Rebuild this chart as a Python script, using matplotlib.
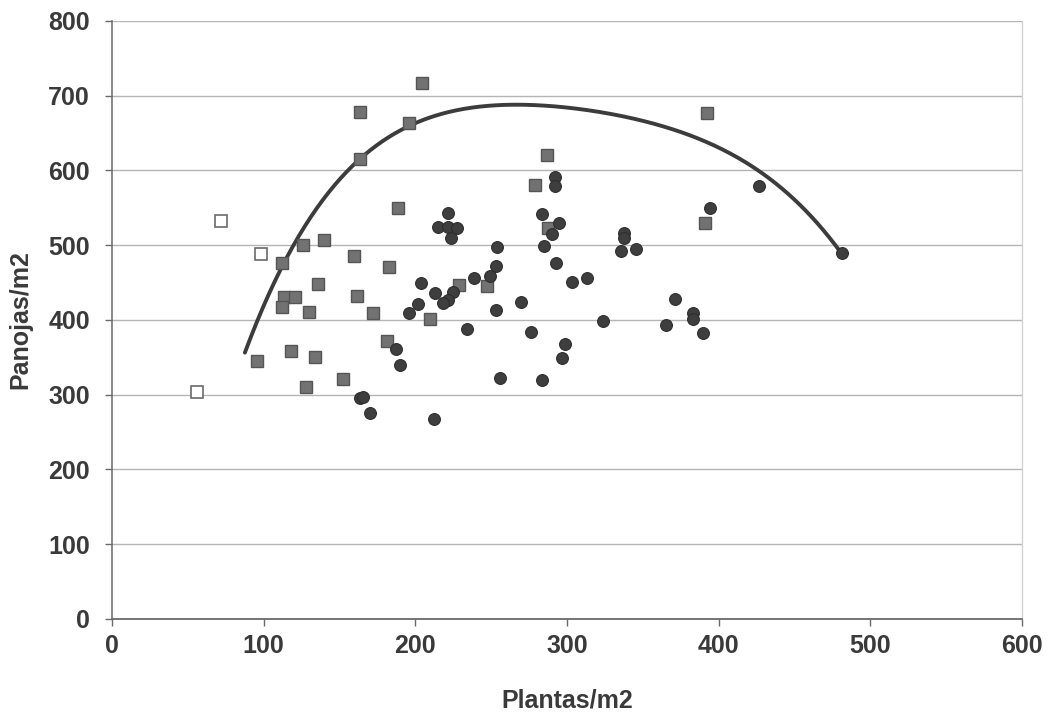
import matplotlib
matplotlib.use("Agg")
import matplotlib.pyplot as plt
import numpy as np

# Open (white) squares
open_x = [71.8, 98.2, 56.0]
open_y = [532, 488, 303]

# Gray squares
sq_x = [204.2, 163.4, 195.7, 163.4, 392.0, 286.6, 278.7, 188.4, 287.2, 391.3,
        139.7, 125.8, 159.4, 112.0, 182.5, 135.7, 161.4, 113.3, 120.6, 112.0,
        129.8, 171.9, 209.5, 228.6, 247.0, 181.2, 95.5, 117.9, 133.7, 152.2,
        127.8]
sq_y = [717, 678, 663, 615, 676, 620, 580, 549, 523, 529,
        507, 500, 485, 476, 471, 448, 432, 430, 430, 417,
        410, 409, 401, 446, 445, 372, 345, 358, 350, 321,
        310]

# Dark circles
ci_x = [221.3, 214.8, 221.3, 227.3, 223.3, 253.6, 253.0, 249.0, 239.0, 203.6,
        212.8, 224.6, 221.3, 218.0, 201.6, 195.7, 253.0, 269.4, 233.9, 276.0,
        187.0, 189.7, 255.6, 283.3, 299.0, 296.4, 323.5, 291.8, 291.8, 283.3,
        295.0, 289.9, 284.6, 292.5, 303.0, 312.9, 337.3, 337.3, 335.3, 345.8,
        371.5, 365.6, 383.4, 383.4, 390.0, 394.6, 426.9, 481.6, 163.4, 165.3,
        170.0, 212.1]
ci_y = [543, 524, 524, 523, 509, 497, 472, 459, 456, 449,
        436, 437, 427, 423, 421, 409, 413, 424, 388, 384,
        361, 340, 322, 320, 368, 349, 398, 591, 579, 541,
        529, 515, 499, 476, 451, 456, 516, 509, 492, 495,
        428, 393, 409, 401, 382, 550, 579, 489, 296, 297,
        275, 267]

# Traced boundary curve
curve_x = [87.6, 99.5, 110.7, 121.9, 132.4, 143.6, 163.4, 176.5, 196.3, 220.7,
           242.4, 264.2, 286.6, 312.9, 334.7, 356.4, 378.8, 400.5, 422.3, 433.5,
           444.7, 455.2, 466.4, 480.9]
curve_y = [353, 417, 473, 507, 540, 571, 611, 636, 663, 678,
           684.5, 687, 686, 682, 674, 663, 647, 627, 604, 591,
           573.5, 551, 524, 489]

x_ticks = [0, 100, 200, 300, 400, 500, 600]
y_ticks = [0, 100, 200, 300, 400, 500, 600, 700, 800]

plt.rcParams['font.family'] = ['Liberation Sans', 'DejaVu Sans']
txt = '#3a3a3a'

fig = plt.figure(figsize=(10.5, 7.17), dpi=100)
ax = fig.add_axes([0.1067, 0.1367, 0.8666, 0.8344])

ax.set_xlim(0, 600)
ax.set_ylim(0, 800)
ax.set_xticks(x_ticks)
ax.set_yticks(y_ticks)
ax.yaxis.grid(True, color='#b5b5b5', lw=1.0)
ax.set_axisbelow(True)

ax.spines['top'].set_visible(False)
ax.spines['right'].set_color('#cfcfcf')
ax.spines['right'].set_linewidth(0.9)
ax.spines['left'].set_color('#6a6a6a')
ax.spines['bottom'].set_color('#6a6a6a')
ax.spines['left'].set_linewidth(1.1)
ax.spines['bottom'].set_linewidth(1.3)

ax.tick_params(axis='both', direction='out', length=5, width=1, color='#6a6a6a',
               labelsize=18, labelcolor=txt)
ax.tick_params(axis='y', pad=11)
ax.tick_params(axis='x', pad=6)
for lab in ax.get_xticklabels() + ax.get_yticklabels():
    lab.set_fontweight('bold')

# smooth trendline through the traced curve points
coef = np.polyfit(curve_x, curve_y, 5)
xs = np.linspace(min(curve_x), max(curve_x), 300)
ax.plot(xs, np.polyval(coef, xs), color='#3c3c3c', lw=2.8, solid_capstyle='round', zorder=2)

ax.plot(open_x, open_y, ls='none', marker='s', ms=8, mfc='white', mec='#6a6a6a',
        mew=1.2, zorder=3)
ax.plot(sq_x, sq_y, ls='none', marker='s', ms=8, mfc='#727272', mec='#555555',
        mew=1.0, zorder=3)
ax.plot(ci_x, ci_y, ls='none', marker='o', ms=8.5, mfc='#3e3e3e', mec='#2e2e2e',
        mew=0.8, zorder=4)

ax.set_xlabel('Plantas/m2', fontsize=18, fontweight='bold', color=txt, labelpad=22)
ax.set_ylabel('Panojas/m2', fontsize=18, fontweight='bold', color=txt, labelpad=11)

fig.savefig('out.png', dpi=100, facecolor='white')
